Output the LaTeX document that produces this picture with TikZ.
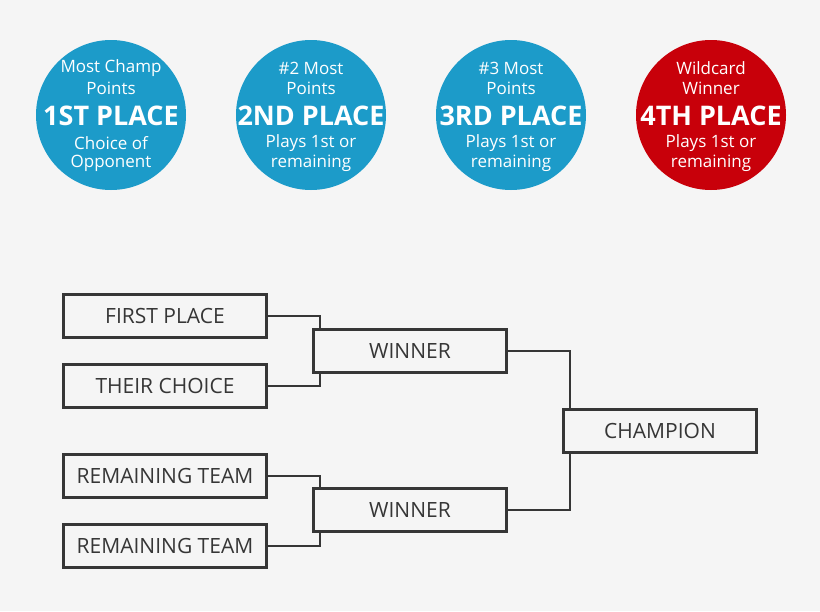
\documentclass[tikz,border=0pt]{standalone}
\usepackage{fontspec}
\setmainfont{Open Sans}
\usetikzlibrary{backgrounds}
\begin{document}
\begin{tikzpicture}[x=1pt,y=-1pt,
  circ/.style={circle,minimum size=150pt,inner sep=0pt},
  sm/.style={text=white,inner sep=0pt,font=\fontsize{17}{19}\selectfont},
  bg/.style={text=white,inner sep=0pt,font=\fontsize{27}{30}\selectfont\bfseries},
  box/.style={draw=boxc,line width=3pt,fill=bgc,minimum width=203pt,minimum height=43pt,inner sep=0pt,text=boxc,font=\fontsize{21}{24}\selectfont},
  nbox/.style={box,minimum width=193pt},
  conn/.style={draw=boxc,line width=2pt}]
\definecolor{bgc}{HTML}{F5F5F5}
\definecolor{bluec}{HTML}{1C9BC9}
\definecolor{redc}{HTML}{C8000A}
\definecolor{boxc}{HTML}{363636}
\useasboundingbox (0,0) rectangle (820,611);
\foreach \n/\x/\col/\la/\lb/\big/\lc/\ld in {
  c1/111/bluec/Most Champ/Points/1ST PLACE/Choice of/Opponent,
  c2/311/bluec/\#2 Most/Points/2ND PLACE/Plays 1st or/remaining,
  c3/511/bluec/\#3 Most/Points/3RD PLACE/Plays 1st or/remaining,
  c4/711/redc/Wildcard/Winner/4TH PLACE/Plays 1st or/remaining}{
  \node[circ,fill=\col] (\n) at (\x,115) {};
  \node[sm] (\n a) at ([yshift=47pt]\n.center) {\la};
  \node[sm] (\n b) at ([yshift=27pt]\n.center) {\lb};
  \node[bg] (\n c) at ([yshift=-1pt]\n.center) {\big};
  \node[sm] (\n d) at ([yshift=-28pt]\n.center) {\lc};
  \node[sm] (\n e) at ([yshift=-48pt]\n.center) {\ld};
}
\node[box] (a) at (165,316) {FIRST PLACE};
\node[box] (b) at (165,386) {THEIR CHOICE};
\node[box] (c) at (165,476) {REMAINING TEAM};
\node[box] (d) at (165,546) {REMAINING TEAM};
\node[nbox] (w1) at (410,351) {WINNER};
\node[nbox] (w2) at (410,510) {WINNER};
\node[nbox] (ch) at (660,431) {CHAMPION};
\begin{scope}[on background layer]
\fill[bgc] (0,0) rectangle (820,611);
\coordinate (j1) at (320,316);
\coordinate (j2) at (320,386);
\coordinate (j3) at (320,476);
\coordinate (j4) at (320,546);
\coordinate (k1) at (570,351);
\coordinate (k2) at (570,510);
\draw[conn] (a.east) -- (j1) -- (j2) -- (b.east);
\draw[conn] (c.east) -- (j3) -- (j4) -- (d.east);
\draw[conn] (w1.east) -- (k1) -- (k2) -- (w2.east);
\end{scope}
\end{tikzpicture}
\end{document}
